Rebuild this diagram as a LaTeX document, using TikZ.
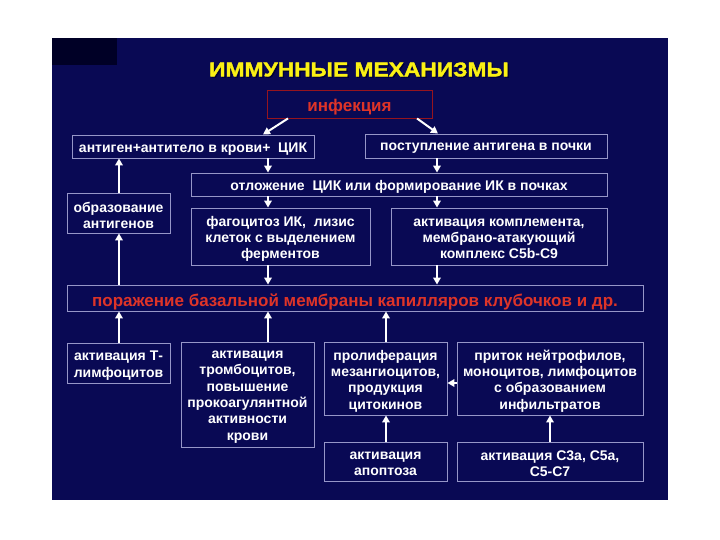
\documentclass[tikz,border=0pt]{standalone}
\usepackage{fontspec}
\setmainfont{Liberation Sans}
\newfontface\titlefont{Liberation Sans Bold}[FakeBold=1.6]
\usetikzlibrary{arrows.meta}
\definecolor{panel}{RGB}{9,9,84}
\definecolor{edge}{RGB}{150,150,200}
\definecolor{redtxt}{RGB}{222,52,40}
\definecolor{redbox}{RGB}{150,20,30}
\definecolor{titley}{RGB}{250,240,20}
\tikzset{
  box/.style={draw=edge, line width=0.9pt, fill=panel, inner sep=0pt},
  lab/.style={text=white, font=\bfseries\fontsize{14}{16.3}\selectfont, align=center, inner sep=0pt, yshift=-2.5pt},
  redlab/.style={lab, text=redtxt, font=\bfseries\fontsize{17}{19}\selectfont, yshift=-1pt},
  arr/.style={draw=white, line width=2pt, -{Triangle[width=7.5pt,length=7pt]}},
}
\begin{document}
\begin{tikzpicture}[x=1pt,y=-1pt]
\useasboundingbox (0,0) rectangle (720,540);
\fill[white] (0,0) rectangle (720,540);
\fill[panel] (52,38) rectangle (668,500);
\fill[black!85!blue] (52,38) rectangle (117,65);
% title
\node[text=black!80!blue, font=\titlefont\fontsize{20}{22}\selectfont, xscale=1.14] at (360.3,70.8) {ИММУННЫЕ МЕХАНИЗМЫ};
\node[text=titley, font=\titlefont\fontsize{20}{22}\selectfont, xscale=1.14] (title) at (359,69.5) {ИММУННЫЕ МЕХАНИЗМЫ};
% boxes
\node[box, draw=redbox, minimum width=165pt, minimum height=28pt, label={[redlab]center:инфекция}] (inf) at (349.5,104) {};
\node[box, minimum width=242pt, minimum height=23pt, label={[lab]center:{антиген+антитело в крови+\ \ ЦИК}}] (b1) at (193,146.5) {};
\node[box, minimum width=242pt, minimum height=24pt, label={[lab]center:{поступление антигена в почки}}] (b2) at (486,146) {};
\node[box, minimum width=416pt, minimum height=23pt, label={[lab]center:{отложение\ \ ЦИК или формирование ИК в почках}}] (b3) at (399,184.5) {};
\node[box, minimum width=179pt, minimum height=57pt, label={[lab]center:{фагоцитоз ИК,\ \ лизис\\клеток с выделением\\ферментов}}] (b4) at (280.5,236.5) {};
\node[box, minimum width=216pt, minimum height=57pt, label={[lab]center:{активация комплемента,\\мембрано-атакующий\\комплекс C5b-C9}}] (b5) at (499,236.5) {};
\node[box, minimum width=103pt, minimum height=40pt, label={[lab]center:{образование\\антигенов}}] (b6) at (118.5,213) {};
\node[box, minimum width=576pt, minimum height=26pt, label={[redlab]center:{поражение базальной мембраны капилляров клубочков и др.}}] (b7) at (355,298) {};
\node[box, minimum width=103pt, minimum height=40pt, label={[lab]center:{активация Т-\\лимфоцитов}}] (b8) at (118.5,363) {};
\node[box, minimum width=133pt, minimum height=105pt, label={[lab]center:{активация\\тромбоцитов,\\повышение\\прокоагулянтной\\активности\\крови}}] (b9) at (247.5,394.5) {};
\node[box, minimum width=123pt, minimum height=73pt, label={[lab]center:{пролиферация\\мезангиоцитов,\\продукция\\цитокинов}}] (b10) at (385.5,378.5) {};
\node[box, minimum width=186pt, minimum height=73pt, label={[lab]center:{приток нейтрофилов,\\моноцитов, лимфоцитов\\с образованием\\инфильтратов}}] (b11) at (550,378.5) {};
\node[box, minimum width=123pt, minimum height=39pt, label={[lab]center:{активация\\апоптоза}}] (b12) at (385.5,461.5) {};
\node[box, minimum width=186pt, minimum height=39pt, label={[lab]center:{активация C3a, C5a,\\C5-C7}}] (b13) at (550,461.5) {};
% helper x positions
\coordinate (xa) at (268,0);
\coordinate (xb) at (437,0);
\coordinate (xc) at (119,0);
\coordinate (xd) at (386,0);
\coordinate (xe) at (550,0);
\coordinate (ia) at (288,0);
\coordinate (ib) at (417,0);
\coordinate (ta) at (263,0);
\coordinate (tb) at (438,0);
\coordinate (ya) at (0,383);
% arrows
\draw[arr] (inf.south -| ia) -- (b1.north -| ta);
\draw[arr] (inf.south -| ib) -- (b2.north -| tb);
\draw[arr] (b1.south -| xa) -- (b3.north -| xa);
\draw[arr] (b2.south -| xb) -- (b3.north -| xb);
\draw[arr] (b3.south -| xa) -- (b4.north -| xa);
\draw[arr] (b3.south -| xb) -- (b5.north -| xb);
\draw[arr] (b4.south -| xa) -- (b7.north -| xa);
\draw[arr] (b5.south -| xb) -- (b7.north -| xb);
\draw[arr] (b6.north -| xc) -- (b1.south -| xc);
\draw[arr] (b7.north -| xc) -- (b6.south -| xc);
\draw[arr] (b8.north -| xc) -- (b7.south -| xc);
\draw[arr] (b9.north -| xa) -- (b7.south -| xa);
\draw[arr] (b10.north -| xd) -- (b7.south -| xd);
\draw[arr] (b12.north -| xd) -- (b10.south -| xd);
\draw[arr] (b13.north -| xe) -- (b11.south -| xe);
\draw[arr] (b11.west |- ya) -- (b10.east |- ya);
\end{tikzpicture}
\end{document}
